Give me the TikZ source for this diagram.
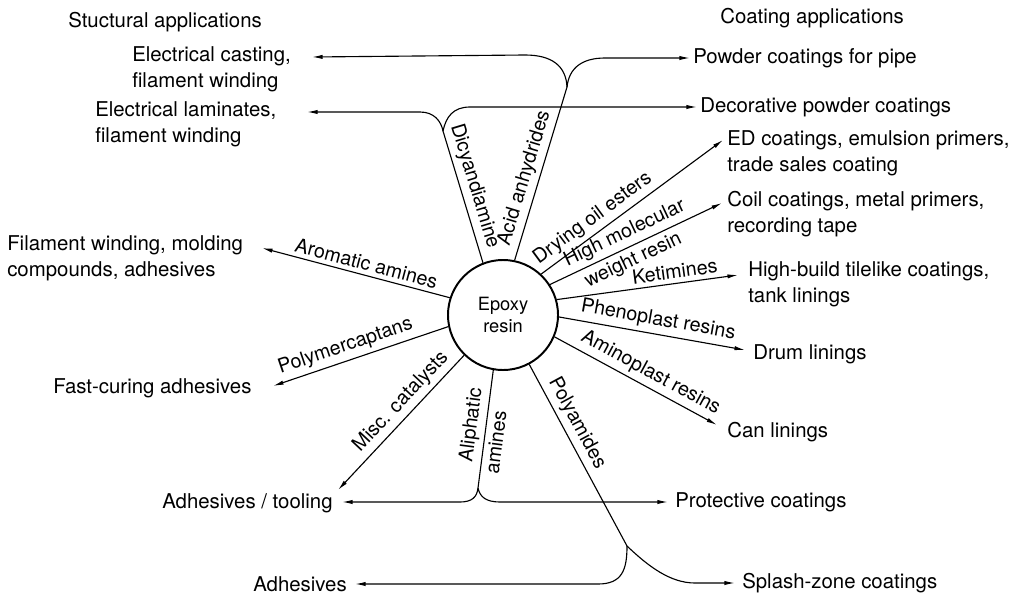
\documentclass[tikz,border=0pt]{standalone}
\usepackage{fontspec}
\setmainfont{TeX Gyre Heros}
\usetikzlibrary{arrows.meta}
\tikzset{spoke/.style={line width=0.8pt}}
\tikzset{arr/.style={spoke,-{Latex[length=7.5pt,width=3pt]}}}
\tikzset{appl/.style={inner sep=0pt,anchor=west,align=left,font=\fontsize{14.5}{18.5}\selectfont}}
\tikzset{tag/.style={sloped,inner sep=3pt,font=\fontsize{14}{16}\selectfont}}

\begin{document}
\begin{tikzpicture}[x=0.025cm,y=-0.025cm] % pixel grid, y downwards
    \useasboundingbox (0,0) rectangle (1010,598);
    \node[circle,draw,line width=1.4pt,minimum size=2.75cm,inner sep=0pt,align=center,font=\fontsize{13}{15}\selectfont] (epoxy) at (503,315) {Epoxy\\resin};
    % headings
    \node[appl] (stru) at (68,22) {Stuctural applications};
    \node[appl] (coat) at (720,18) {Coating applications};
    % structural side
    \node[appl] (cast) at (132,69) {Electrical casting,\\filament winding};
    \node[appl] (lam) at (95,124) {Electrical laminates,\\filament winding};
    \node[appl] (fil) at (7,258) {Filament winding, molding\\compounds, adhesives};
    \node[appl] (fast) at (53,388) {Fast-curing adhesives};
    \node[appl] (tool) at (162,503) {Adhesives / tooling};
    \node[appl] (adh) at (253,584) {Adhesives};
    % coating side
    \node[appl] (pipe) at (693,58) {Powder coatings for pipe};
    \node[appl] (deco) at (700,107) {Decorative powder coatings};
    \node[appl] (ed) at (727,153) {ED coatings, emulsion primers,\\trade sales coating};
    \node[appl] (coil) at (727,214) {Coil coatings, metal primers,\\recording tape};
    \node[appl] (build) at (748,284) {High-build tilelike coatings,\\tank linings};
    \node[appl] (drum) at (753,354) {Drum linings};
    \node[appl] (can) at (727,432) {Can linings};
    \node[appl] (prot) at (675,502) {Protective coatings};
    \node[appl] (splash) at (742,583) {Splash-zone coatings};
    % arrow ends
    \coordinate (cast-in) at (312,57);
    \coordinate (lam-in) at (307,112);
    \coordinate (fil-in) at (262,248);
    \coordinate (fast-in) at (273,386);
    \coordinate (misc-in) at (338,490);
    \coordinate (tool-in) at (342,502);
    \coordinate (adh-in) at (355,584);
    \coordinate (pipe-in) at (690,58);
    \coordinate (deco-in) at (697,107);
    \coordinate (ed-in) at (723,140);
    \coordinate (coil-in) at (722,203);
    \coordinate (build-in) at (738,275);
    \coordinate (drum-in) at (745,350);
    \coordinate (can-in) at (717,425);
    \coordinate (prot-in) at (668,502);
    \coordinate (splash-in) at (735,583);
    % branch points
    \coordinate (dicy-j) at (443,131);
    \coordinate (acid-j) at (567,87);
    \coordinate (ali-j) at (478,488);
    \coordinate (poly-j) at (627,546);
    % straight spokes
    \draw[arr] (epoxy.47) -- node[tag,above,pos=.33] {Drying oil esters} (ed-in);
    \draw[arr] (epoxy.33) -- node[tag,above,pos=.47] {High molecular} node[tag,below,pos=.45] {weight resin} (coil-in);
    \draw[arr] (epoxy.16.5) -- node[tag,above,pos=.66] {Ketimines} (build-in);
    \draw[arr] (epoxy.-2) -- node[tag,above,pos=.52] {Phenoplast resins} (drum-in);
    \draw[arr] (epoxy.-23) -- node[tag,above,pos=.55] {Aminoplast resins} (can-in);
    \draw[arr] (epoxy.162) -- node[tag,above,pos=.46] {Aromatic amines} (fil-in);
    \draw[arr] (epoxy.192) -- node[tag,above,pos=.56] {Polymercaptans} (fast-in);
    \draw[arr] (epoxy.-134) -- node[tag,above,pos=.42] {Misc. catalysts} (misc-in);
    % forked spokes
    \draw[spoke] (epoxy.111) -- node[tag,above,pos=.55] {Dicyandiamine} (dicy-j);
    \draw[arr] (dicy-j) .. controls (441,121) and (434,112) .. (420,112) -- (lam-in);
    \draw[arr] (dicy-j) .. controls (446,117) and (453,107) .. (470,107) -- (deco-in);
    \draw[spoke] (epoxy.78) -- node[tag,above,pos=.45] {Acid anhydrides} (acid-j);
    \draw[arr] (acid-j) .. controls (566,66) and (552,55) .. (525,55) -- (cast-in);
    \draw[arr] (acid-j) .. controls (569,68) and (582,58) .. (605,58) -- (pipe-in);
    \draw[spoke] (epoxy.-100) -- node[tag,above,pos=.48] {Aliphatic} node[tag,below,pos=.6] {amines} (ali-j);
    \draw[arr] (ali-j) .. controls (477,497) and (472,502) .. (460,502) -- (tool-in);
    \draw[arr] (ali-j) .. controls (480,497) and (486,502) .. (500,502) -- (prot-in);
    \draw[spoke] (epoxy.-62) -- node[tag,above,pos=.36] {Polyamides} (poly-j);
    \draw[arr] (poly-j) .. controls (627,570) and (622,584) .. (598,584) -- (adh-in);
    \draw[arr] (poly-j) .. controls (648,566) and (670,583) .. (695,583) -- (splash-in);
\end{tikzpicture}
\end{document}
